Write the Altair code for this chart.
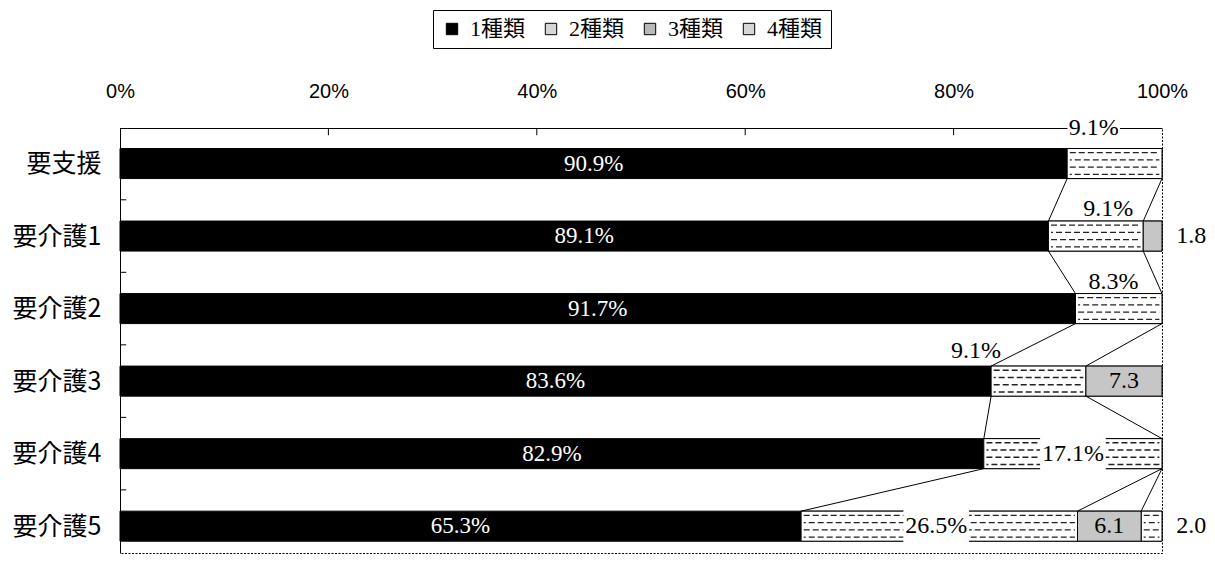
import altair as alt
import pandas as pd

# ---------------- data ----------------
categories = ["要支援", "要介護1", "要介護2", "要介護3", "要介護4", "要介護5"]
series = ["1種類", "2種類", "3種類", "4種類"]
v1 = [90.9, 89.1, 91.7, 83.6, 82.9, 65.3]
v2 = [9.1, 9.1, 8.3, 9.1, 17.1, 26.5]
v3 = [0.0, 1.8, 0.0, 7.3, 0.0, 6.1]
v4 = [0.0, 0.0, 0.0, 0.0, 0.0, 2.0]
x_ticks = [0, 20, 40, 60, 80, 100]

# ---------------- label layout (non-data) ----------------
label_cat = [0, 1, 2, 3, 4, 5, 1, 3, 5, 5]
label_ser = [1, 1, 1, 1, 1, 1, 2, 2, 2, 3]
label_place = ["top", "above", "above", "above", "in", "in", "right", "in", "in", "right"]
label_dx = [-2.0, 1.2, -0.5, -6.0, 0.0, -0.3, 0.0, 0.0, 0.0, 0.0]
label_dy = [-0.49, -0.37, -0.37, -0.42, 0.0, 0.0, 0.0, 0.0, 0.0, 0.0]

H = 0.207  # half bar thickness in band units
vals = [v1, v2, v3, v4]

# segments
seg_rows = []
cum = []
for i, c in enumerate(categories):
    total = sum(vals[s][i] for s in range(4))
    start = 0.0
    ends = []
    for s, name in enumerate(series):
        v = vals[s][i]
        end = start + v / total * 100
        if v > 0:
            seg_rows.append(dict(cat=c, idx=i, series=name, value=v, start=start, end=end,
                                 y=i - H, y2=i + H))
        ends.append(end)
        start = end
    cum.append(ends)
seg = pd.DataFrame(seg_rows)

# dashed pattern rows for 2種類 / 4種類
dash_rows = []
for r in seg_rows:
    if r["series"] in ("2種類", "4種類"):
        for j, off in enumerate([-0.15, -0.05, 0.05, 0.15]):
            dash_rows.append(dict(x=r["start"] + 0.25, x2=r["end"] - 0.25, y=r["idx"] + off, par=j % 2))
dash = pd.DataFrame(dash_rows)

# series lines
line_rows = []
for i in range(len(categories) - 1):
    for k in range(3):
        a, b = cum[i][k], cum[i + 1][k]
        if a >= 99.95 and b >= 99.95:
            continue
        line_rows.append(dict(x=a, x2=b, y=i + H, y2=i + 1 - H))
lines = pd.DataFrame(line_rows)

# labels
lab_rows = []
for i in range(len(categories)):
    lab_rows.append(dict(x=cum[i][0] / 2, y=i, text=f"{v1[i]:.1f}%", col="white", fs=23))
bg_rows = []
for ci, si, pl, dx, dy in zip(label_cat, label_ser, label_place, label_dx, label_dy):
    v = vals[si][ci]
    s0 = cum[ci][si - 1] if si > 0 else 0
    mid = (s0 + cum[ci][si]) / 2
    txt = f"{v:.1f}%" if si < 2 else f"{v:.1f}"
    x = 102.8 if pl == "right" else mid + dx
    y = ci + dy
    lab_rows.append(dict(x=x, y=y, text=txt, col="black", fs=24))
    if pl == "top" or (pl == "in" and si == 1):
        hw = len(txt) * 0.63
        hh = 0.15 if pl == "top" else 0.23
        bg_rows.append(dict(x=x - hw, x2=x + hw, y=y - hh, y2=y + hh))
labels = pd.DataFrame(lab_rows)
bgs = pd.DataFrame(bg_rows)

yticks = pd.DataFrame(dict(y=[0.5, 1.5, 2.5, 3.5, 4.5]))
xticks_in = pd.DataFrame(dict(x=x_ticks[1:-1]))

# ---------------- scales / axes ----------------
Y_MIN, Y_MAX = -0.49, 5.37
x_scale = alt.Scale(domain=[0, 100], nice=False, zero=False)
y_scale = alt.Scale(domain=[Y_MIN, Y_MAX], reverse=True, nice=False, zero=False)
cat_expr = "[" + ",".join(f"'{c}'" for c in categories) + "][datum.value]"
x_axis = alt.Axis(orient="top", values=x_ticks, labelExpr="datum.value + '%'", ticks=False, tickSize=0,
                  grid=False, domainColor="black", domainWidth=1, labelFontSize=20,
                  labelFont="Liberation Sans", labelColor="black", labelPadding=27,
                  labelFlush=False, title=None)
y_axis = alt.Axis(values=[0, 1, 2, 3, 4, 5], labelExpr=cat_expr, ticks=False, tickSize=0, grid=False,
                  domainColor="black", domainWidth=1, labelFontSize=25, labelFont="Noto Sans CJK JP",
                  labelColor="black", labelPadding=19, title=None)

def X(f):
    return alt.X(f, scale=x_scale, axis=x_axis)

def Y(f):
    return alt.Y(f, scale=y_scale, axis=y_axis)

bars = alt.Chart(seg).mark_rect(stroke="black", strokeWidth=1).encode(
    x=X("start:Q"), x2="end:Q", y=Y("y:Q"), y2="y2:Q",
    color=alt.Color("series:N",
                    scale=alt.Scale(domain=series, range=["#000000", "#d6d6d6", "#b8b8b8", "#d6d6d6"]),
                    legend=alt.Legend(title=None, orient="none", legendX=313, legendY=-118,
                                      direction="horizontal", symbolType="square", symbolSize=130,
                                      symbolStrokeColor="black", symbolStrokeWidth=1, symbolOpacity=1,
                                      labelFontSize=22, labelFont="Liberation Serif, Noto Sans CJK JP",
                                      labelColor="black", strokeColor="black", fillColor="white",
                                      padding=8, columnPadding=14, labelOffset=7, labelLimit=200)),
)

# white background of the dashed-pattern segments, over the legend colour
white_seg = alt.Chart(seg).transform_filter(
    "datum.series == '2種類' || datum.series == '4種類'").mark_rect(
    fill="white", stroke="black", strokeWidth=1).encode(
    x=X("start:Q"), x2="end:Q", y=Y("y:Q"), y2="y2:Q")
dotted_seg = alt.Chart(seg).transform_filter("datum.series == '3種類'").mark_rect(
    fill="#c6c6c6", stroke="black", strokeWidth=1).encode(
    x=X("start:Q"), x2="end:Q", y=Y("y:Q"), y2="y2:Q")

dash0 = alt.Chart(dash).transform_filter("datum.par == 0").mark_rule(
    color="#222222", strokeWidth=1.3, strokeDash=[6, 3], strokeDashOffset=0).encode(
    x=X("x:Q"), x2="x2:Q", y=Y("y:Q"))
dash1 = alt.Chart(dash).transform_filter("datum.par == 1").mark_rule(
    color="#222222", strokeWidth=1.3, strokeDash=[6, 3], strokeDashOffset=4).encode(
    x=X("x:Q"), x2="x2:Q", y=Y("y:Q"))

slines = alt.Chart(lines).mark_rule(color="black", strokeWidth=1).encode(
    x=X("x:Q"), x2="x2:Q", y=Y("y:Q"), y2="y2:Q")

ytk = alt.Chart(yticks).mark_rule(color="black", strokeWidth=1).encode(
    x=alt.X("a:Q", scale=x_scale, axis=x_axis), x2="b:Q", y=Y("y:Q")
).transform_calculate(a="0", b="0.6")

xtk = alt.Chart(xticks_in).mark_rule(color="black", strokeWidth=1).encode(
    x=X("x:Q"), y=alt.Y("a:Q", scale=y_scale, axis=y_axis), y2="b:Q"
).transform_calculate(a=str(Y_MIN), b=str(Y_MIN + 0.1))

bg = alt.Chart(bgs).mark_rect(color="white").encode(
    x=X("x:Q"), x2="x2:Q", y=Y("y:Q"), y2="y2:Q")

txt = alt.Chart(labels).mark_text(font="Liberation Serif", baseline="middle", align="center").encode(
    x=X("x:Q"), y=Y("y:Q"), text="text:N",
    color=alt.Color("col:N", scale=None), size=alt.Size("fs:Q", scale=None))

chart = alt.layer(bars, white_seg, dotted_seg, dash0, dash1, slines, ytk, xtk, bg, txt).properties(
    width=1042, height=425,
    padding={"left": 112, "top": 120, "right": 45, "bottom": 2},
    autosize="none", background="white",
).configure_view(stroke="black", strokeDash=[2, 1.5], strokeWidth=1)

chart.save("out.html", embed_options={"renderer": "svg", "actions": False})
